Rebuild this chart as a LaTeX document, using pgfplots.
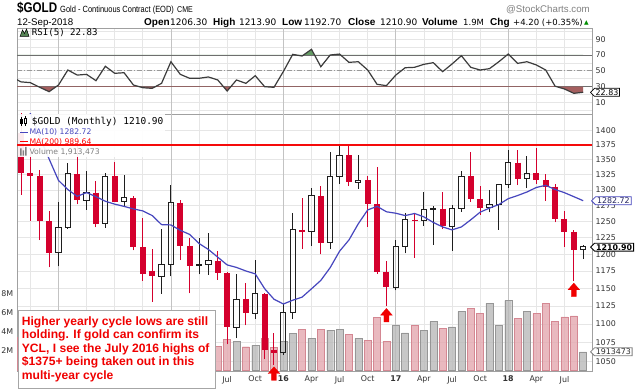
\documentclass[border=0pt]{standalone}
\usepackage{pgfplots}
\pgfplotsset{compat=1.18}
\usepackage{fontspec}
\setmainfont{DejaVu Sans}
\newfontfamily\lib{Liberation Sans}
\newfontfamily\libn[FakeStretch=0.83]{Liberation Sans}
\newfontfamily\djm{DejaVu Sans Mono}
\usetikzlibrary{shapes.symbols}
\newcommand\fs[1]{\fontsize{#1}{#1}\selectfont}
\definecolor{cred}{RGB}{212,0,45}
\definecolor{cblack}{RGB}{30,30,30}
\definecolor{gridc}{RGB}{230,230,230}
\definecolor{gridy}{RGB}{195,195,195}
\definecolor{bord}{RGB}{160,160,160}
\definecolor{labc}{RGB}{50,50,50}
\definecolor{mablue}{RGB}{70,70,190}
\definecolor{vpink}{RGB}{228,168,176}
\definecolor{vpinkb}{RGB}{212,135,146}
\definecolor{vgray}{RGB}{185,185,185}
\definecolor{vgrayb}{RGB}{150,150,150}
\definecolor{rsib}{RGB}{165,95,95}
\definecolor{rsig}{RGB}{100,155,100}
\definecolor{rsil}{RGB}{110,110,110}
\definecolor{anno}{RGB}{240,0,0}
\tikzset{lab/.style={font=\fs{7.9}, text=labc}}
\pgfplotsset{
  base/.style={scale only axis, width=575pt, xmin=-0.427, xmax=60.94, anchor=south west,
    clip mode=individual, /pgf/number format/assume math mode=true},
  hid/.style={base, hide axis},
  qgrid/.style={xtick={1,7,10,13,19,22,25,31,34,37,43,46,49,55,58},
    extra x ticks={4,16,28,40,52}, xmajorgrids,
    grid style={draw=gridc, line width=0.7pt},
    extra x tick style={grid style={draw=gridy, line width=0.7pt}}},
}
\pgfdeclareplotmark{uparr}{%
  \pgfpathmoveto{\pgfpoint{0pt}{-2pt}}%
  \pgfpathlineto{\pgfpoint{5.8pt}{-8.7pt}}%
  \pgfpathlineto{\pgfpoint{2.5pt}{-8.7pt}}%
  \pgfpathlineto{\pgfpoint{2.5pt}{-15.5pt}}%
  \pgfpathlineto{\pgfpoint{-2.5pt}{-15.5pt}}%
  \pgfpathlineto{\pgfpoint{-2.5pt}{-8.7pt}}%
  \pgfpathlineto{\pgfpoint{-5.8pt}{-8.7pt}}%
  \pgfpathclose\pgfusepathqfillstroke}
\begin{document}
\begin{tikzpicture}
\path[use as bounding box] (0,0) rectangle (640pt,389pt);
\fill[white] (0,0) rectangle (640pt,389pt);

% ---------------- RSI panel ----------------
\begin{axis}[base, qgrid, at={(17pt,275pt)}, height=86pt, ymin=-4.68, ymax=104.18,
  axis line style={draw=bord},
  xticklabels={}, extra x tick labels={},
  ytick={10,30,50,70,90}, minor ytick={0,20,40,60,80,100},
  ymajorgrids, yminorgrids, minor grid style={draw=gridc, line width=0.7pt},
  ytick pos=right, yticklabel pos=right, tick style={draw=none},
  yticklabel style={lab, anchor=west, inner sep=0pt, xshift=3.5pt}]
\addplot[draw=rsil, line width=0.9pt] coordinates {(-0.427,70) (60.94,70)};
\addplot[draw=rsil, line width=0.9pt] coordinates {(-0.427,30) (60.94,30)};
\addplot[draw=gray!80, line width=0.8pt, dash pattern=on 5pt off 2pt on 1pt off 2pt] coordinates {(-0.427,50) (60.94,50)};
\end{axis}

\begin{axis}[hid, at={(17pt,275pt)}, height=27.4pt, ymin=-4.68, ymax=30]
\addplot[fill=rsib, draw=none] coordinates {(-1,42.2)(0,36)(1,35.0)(2,29.1)(3,23.6)(4,32.0)(5,51.0)(6,44.6)(7,45.5)(8,37.5)(9,55.7)(10,46.8)(11,47.6)(12,32.0)(13,28.6)(14,27.8)(15,34.1)(16,61.5)(17,45.5)(18,40.5)(19,40.5)(20,42.2)(21,38.4)(22,24.4)(23,38.4)(24,34.1)(25,43.8)(26,29.9)(27,29.1)(28,49.1)(29,70.8)(30,68.7)(31,77.2)(32,55.2)(33,70.0)(34,71.2)(35,60.7)(36,61.5)(37,51.0)(38,32.9)(39,31.2)(40,44.6)(41,53.9)(42,54.4)(43,58.2)(44,60.3)(45,48.9)(46,58.6)(47,69.1)(48,54.4)(49,51.0)(50,52.7)(51,61.5)(52,71.2)(53,59.4)(54,61.5)(55,57.4)(56,51.0)(57,30.5)(58,27.0)(59,21.5)(60,22.83)(60,30)(-1,30)};
\end{axis}

\begin{axis}[hid, at={(17pt,334pt)}, height=27pt, ymin=70, ymax=104.18]
\addplot[fill=rsig, draw=none] coordinates {(-1,42.2)(0,36)(1,35.0)(2,29.1)(3,23.6)(4,32.0)(5,51.0)(6,44.6)(7,45.5)(8,37.5)(9,55.7)(10,46.8)(11,47.6)(12,32.0)(13,28.6)(14,27.8)(15,34.1)(16,61.5)(17,45.5)(18,40.5)(19,40.5)(20,42.2)(21,38.4)(22,24.4)(23,38.4)(24,34.1)(25,43.8)(26,29.9)(27,29.1)(28,49.1)(29,70.8)(30,68.7)(31,77.2)(32,55.2)(33,70.0)(34,71.2)(35,60.7)(36,61.5)(37,51.0)(38,32.9)(39,31.2)(40,44.6)(41,53.9)(42,54.4)(43,58.2)(44,60.3)(45,48.9)(46,58.6)(47,69.1)(48,54.4)(49,51.0)(50,52.7)(51,61.5)(52,71.2)(53,59.4)(54,61.5)(55,57.4)(56,51.0)(57,30.5)(58,27.0)(59,21.5)(60,22.83)(60,70)(-1,70)};
\end{axis}

\begin{axis}[hid, at={(17pt,275pt)}, height=86pt, ymin=-4.68, ymax=104.18]
\addplot[draw={rgb,255:red,60;green,60;blue,60}, line width=1.2pt] coordinates {(-1,42.2)(0,36)(1,35.0)(2,29.1)(3,23.6)(4,32.0)(5,51.0)(6,44.6)(7,45.5)(8,37.5)(9,55.7)(10,46.8)(11,47.6)(12,32.0)(13,28.6)(14,27.8)(15,34.1)(16,61.5)(17,45.5)(18,40.5)(19,40.5)(20,42.2)(21,38.4)(22,24.4)(23,38.4)(24,34.1)(25,43.8)(26,29.9)(27,29.1)(28,49.1)(29,70.8)(30,68.7)(31,77.2)(32,55.2)(33,70.0)(34,71.2)(35,60.7)(36,61.5)(37,51.0)(38,32.9)(39,31.2)(40,44.6)(41,53.9)(42,54.4)(43,58.2)(44,60.3)(45,48.9)(46,58.6)(47,69.1)(48,54.4)(49,51.0)(50,52.7)(51,61.5)(52,71.2)(53,59.4)(54,61.5)(55,57.4)(56,51.0)(57,30.5)(58,27.0)(59,21.5)(60,22.83)};
\end{axis}

% ---------------- Price panel grid ----------------
\begin{axis}[base, qgrid, at={(17pt,17.5pt)}, height=257.5pt, ymode=log, ymin=1036.75, ymax=1429.3,
  axis line style={draw=bord},
  xticklabels={,,,,,Jul,Oct,Apr,Jul,Oct,Apr,Jul,Oct,Apr,Jul},
  extra x tick labels={,,16,17,18},
  extra x tick style={xticklabel style={font=\fs{7.9}\bfseries}},
  xticklabel style={lab, anchor=north, inner sep=0pt, yshift=-4.5pt},
  ytick={1050,1075,1100,1125,1150,1175,1200,1225,1250,1275,1300,1325,1350,1375,1400},
  yticklabels={1050,1075,1100,1125,1150,1175,1200,1225,1250,1275,1300,1325,1350,1375,1400},
  ymajorgrids, ytick pos=right, yticklabel pos=right, tick style={draw=none},
  yticklabel style={lab, anchor=west, inner sep=0pt, xshift=3.5pt}]
\end{axis}

% ---------------- Volume ----------------
\begin{axis}[base, at={(17pt,17.5pt)}, height=257.5pt, ymin=-0.158, ymax=26.947,
  axis line style={draw=none}, xtick=\empty, ytick={2,4,6,8}, yticklabels={2M,4M,6M,8M},
  tick style={draw=none}, yticklabel style={lab, anchor=east, inner sep=0pt, xshift=-3.5pt},
  ybar, bar width=7pt]
\addplot[fill=vpink, draw=vpinkb, fill opacity=0.8, bar shift=0pt] coordinates {(0,3.5)(1,3.6)(2,3.3)(3,3.8)(6,3.7)(8,3.5)(10,3.4)(12,3.9)(13,4.0)(14,3.7)(17,3.9)(18,3.6)(21,2.5)(22,3.2)(24,2.45)(26,3.3)(27,2.4)(30,4.3)(32,4.3)(35,3.75)(37,3.15)(38,5.55)(39,3.05)(42,4.7)(45,4.4)(48,6.5)(49,5.95)(53,5.45)(55,5.95)(56,7.0)(57,5.15)(58,5.6)(59,5.7)};
\addplot[fill=vgray, draw=vgrayb, fill opacity=0.8, bar shift=0pt] coordinates {(4,3.4)(5,3.9)(7,3.2)(9,3.6)(11,3.0)(15,3.5)(16,4.2)(19,3.4)(20,3.2)(23,3.0)(25,2.6)(28,3.0)(29,3.85)(31,3.35)(33,4.2)(34,4.3)(36,3.3)(40,4.7)(41,3.9)(43,4.2)(44,5.1)(46,4.55)(47,6.15)(50,7.0)(51,4.7)(52,7.3)(54,6.2)(60,1.913)};
\end{axis}

% ---------------- Candles + MA ----------------
\begin{axis}[hid, at={(17pt,17.5pt)}, height=257.5pt, ymode=log, ymin=1036.75, ymax=1429.3, unbounded coords=jump]
% red wicks
\addplot[cred, line width=1pt] coordinates {(0,1292.0)(0,1434.4)(0,nan)(1,1251.0)(1,1362.4)(1,nan)(2,1221.2)(2,1332.0)(2,nan)(3,1180.5)(3,1267.0)(3,nan)(6,1277.0)(6,1392.0)(6,nan)(8,1240.6)(8,1315.0)(8,nan)(10,1281.0)(10,1345.3)(10,nan)(12,1205.5)(12,1290.7)(12,nan)(13,1160.8)(13,1255.0)(13,nan)(14,1131.0)(14,1208.0)(14,nan)(17,1191.0)(17,1284.0)(17,nan)(18,1142.6)(18,1224.2)(18,nan)(21,1162.0)(21,1205.3)(21,nan)(22,1072.3)(22,1174.0)(22,nan)(24,1098.0)(24,1157.0)(24,nan)(26,1052.4)(26,1143.0)(26,nan)(27,1045.4)(27,1088.0)(27,nan)(30,1208.4)(30,1287.8)(30,nan)(32,1199.6)(32,1306.0)(32,nan)(35,1306.0)(35,1375.1)(35,nan)(37,1241.6)(37,1322.6)(37,nan)(38,1171.2)(38,1338.0)(38,nan)(39,1124.3)(39,1190.2)(39,nan)(42,1194.5)(42,1263.9)(42,nan)(45,1238.1)(45,1297.1)(45,nan)(48,1281.1)(48,1362.4)(48,nan)(49,1260.3)(49,1306.1)(49,nan)(53,1307.9)(53,1366.2)(53,nan)(55,1310.1)(55,1369.4)(55,nan)(56,1282.2)(56,1326.6)(56,nan)(57,1248.6)(57,1310.2)(57,nan)(58,1211.3)(58,1265.6)(58,nan)(59,1160.4)(59,1237.2)};
% black wicks
\addplot[cblack, line width=1pt] coordinates {(4,1182)(4,1202.3)(4,nan)(4,1240.1)(4,1280)(4,nan)(5,1238)(5,1240.1)(5,nan)(5,1326.5)(5,1345)(5,nan)(7,1268)(7,1283.8)(7,nan)(7,1295.9)(7,1331.6)(7,nan)(9,1240)(9,1246.0)(9,nan)(9,1322.0)(9,1327)(9,nan)(11,1273)(11,1281.3)(11,nan)(11,1287.4)(11,1324)(11,nan)(15,1142.4)(15,1167.5)(15,nan)(15,1184.1)(15,1238.7)(15,nan)(16,1167.3)(16,1184.1)(16,nan)(16,1279.2)(16,1307.8)(16,nan)(19,1170)(19,1183.1)(19,nan)(19,1184.5)(19,1225)(19,nan)(20,1169.7)(20,1184.5)(20,nan)(20,1190.4)(20,1232.7)(20,nan)(23,1080.8)(23,1095.4)(23,nan)(23,1134.4)(23,1170.5)(23,nan)(25,1107)(25,1115.1)(25,nan)(25,1142.3)(25,1191.7)(25,nan)(28,1058)(28,1061.1)(28,nan)(28,1116.4)(28,1128)(28,nan)(29,1107)(29,1116.4)(29,nan)(29,1237.4)(29,1263.9)(29,nan)(31,1212)(31,1234.2)(31,nan)(31,1290.5)(31,1304)(31,nan)(33,1207.7)(33,1217.3)(33,nan)(33,1321.6)(33,1362.6)(33,nan)(34,1310.1)(34,1321.6)(34,nan)(34,1357.5)(34,1377.5)(34,nan)(36,1302)(36,1312.2)(36,nan)(36,1315.8)(36,1358.3)(36,nan)(40,1147)(40,1151.7)(40,nan)(40,1211.4)(40,1221.4)(40,nan)(41,1201)(41,1211.4)(41,nan)(41,1252.6)(41,1264)(41,nan)(43,1242.5)(43,1251.2)(43,nan)(43,1268.3)(43,1297.4)(43,nan)(44,1214.3)(44,1268.3)(44,nan)(44,1270.2)(44,1274.3)(44,nan)(46,1204.9)(46,1242.3)(46,nan)(46,1270.4)(46,1276.5)(46,nan)(47,1265.1)(47,1270.4)(47,nan)(47,1322.2)(47,1331.9)(47,nan)(50,1264.1)(50,1271.1)(50,nan)(50,1276.0)(50,1299.8)(50,nan)(51,1236.7)(51,1276.0)(51,nan)(51,1309.3)(51,1309.6)(51,nan)(52,1302.8)(52,1309.3)(52,nan)(52,1345.2)(52,1366.2)(52,nan)(54,1303.1)(54,1318.3)(54,nan)(54,1327.3)(54,1356.6)(54,nan)(60,1192.7)(60,1206.3)(60,nan)(60,1210.9)(60,1213.9)};
% red bodies
\addplot[cred, line width=6pt] coordinates {(0,1396.1)(0,1327.0)(0,nan)(1,1327.0)(1,1323.6)(1,nan)(2,1323.6)(2,1250.5)(2,nan)(3,1250.5)(3,1202.3)(3,nan)(6,1326.5)(6,1283.8)(6,nan)(8,1295.9)(8,1246.0)(8,nan)(10,1322.0)(10,1281.3)(10,nan)(12,1287.4)(12,1210.5)(12,nan)(13,1210.5)(13,1171.1)(13,nan)(14,1175.6)(14,1167.5)(14,nan)(17,1279.2)(17,1212.6)(17,nan)(18,1212.6)(18,1183.1)(18,nan)(21,1190.4)(21,1172.1)(21,nan)(22,1172.1)(22,1095.4)(22,nan)(24,1134.4)(24,1115.1)(24,nan)(26,1142.3)(26,1065.3)(26,nan)(27,1065.3)(27,1061.1)(27,nan)(30,1237.4)(30,1234.2)(30,nan)(32,1290.5)(32,1217.3)(32,nan)(35,1357.5)(35,1312.2)(35,nan)(37,1315.8)(37,1277.0)(37,nan)(38,1277.0)(38,1173.4)(38,nan)(39,1173.4)(39,1151.7)(39,nan)(42,1252.6)(42,1251.2)(42,nan)(45,1270.2)(45,1242.3)(45,nan)(48,1322.2)(48,1284.8)(48,nan)(49,1284.8)(49,1271.1)(49,nan)(53,1345.2)(53,1318.3)(53,nan)(55,1327.3)(55,1315.9)(55,nan)(56,1315.9)(56,1305.2)(56,nan)(57,1305.2)(57,1254.5)(57,nan)(58,1254.5)(58,1233.6)(58,nan)(59,1233.6)(59,1206.7)};
% hollow bodies
\addplot[cblack, line width=1pt] coordinates {
(4,1202.3)(4.28,1202.3)(4.28,1240.1)(3.72,1240.1)(3.72,1202.3)(4,1202.3)(4,nan)
(5,1240.1)(5.28,1240.1)(5.28,1326.5)(4.72,1326.5)(4.72,1240.1)(5,1240.1)(5,nan)
(7,1283.8)(7.28,1283.8)(7.28,1295.9)(6.72,1295.9)(6.72,1283.8)(7,1283.8)(7,nan)
(9,1246.0)(9.28,1246.0)(9.28,1322.0)(8.72,1322.0)(8.72,1246.0)(9,1246.0)(9,nan)
(11,1281.3)(11.28,1281.3)(11.28,1287.4)(10.72,1287.4)(10.72,1281.3)(11,1281.3)(11,nan)
(15,1167.5)(15.28,1167.5)(15.28,1184.1)(14.72,1184.1)(14.72,1167.5)(15,1167.5)(15,nan)
(16,1184.1)(16.28,1184.1)(16.28,1279.2)(15.72,1279.2)(15.72,1184.1)(16,1184.1)(16,nan)
(19,1183.1)(19.28,1183.1)(19.28,1184.5)(18.72,1184.5)(18.72,1183.1)(19,1183.1)(19,nan)
(20,1184.5)(20.28,1184.5)(20.28,1190.4)(19.72,1190.4)(19.72,1184.5)(20,1184.5)(20,nan)
(23,1095.4)(23.28,1095.4)(23.28,1134.4)(22.72,1134.4)(22.72,1095.4)(23,1095.4)(23,nan)
(25,1115.1)(25.28,1115.1)(25.28,1142.3)(24.72,1142.3)(24.72,1115.1)(25,1115.1)(25,nan)
(28,1061.1)(28.28,1061.1)(28.28,1116.4)(27.72,1116.4)(27.72,1061.1)(28,1061.1)(28,nan)
(29,1116.4)(29.28,1116.4)(29.28,1237.4)(28.72,1237.4)(28.72,1116.4)(29,1116.4)(29,nan)
(31,1234.2)(31.28,1234.2)(31.28,1290.5)(30.72,1290.5)(30.72,1234.2)(31,1234.2)(31,nan)
(33,1217.3)(33.28,1217.3)(33.28,1321.6)(32.72,1321.6)(32.72,1217.3)(33,1217.3)(33,nan)
(34,1321.6)(34.28,1321.6)(34.28,1357.5)(33.72,1357.5)(33.72,1321.6)(34,1321.6)(34,nan)
(36,1312.2)(36.28,1312.2)(36.28,1315.8)(35.72,1315.8)(35.72,1312.2)(36,1312.2)(36,nan)
(40,1151.7)(40.28,1151.7)(40.28,1211.4)(39.72,1211.4)(39.72,1151.7)(40,1151.7)(40,nan)
(41,1211.4)(41.28,1211.4)(41.28,1252.6)(40.72,1252.6)(40.72,1211.4)(41,1211.4)(41,nan)
(43,1251.2)(43.28,1251.2)(43.28,1268.3)(42.72,1268.3)(42.72,1251.2)(43,1251.2)(43,nan)
(44,1268.3)(44.28,1268.3)(44.28,1270.2)(43.72,1270.2)(43.72,1268.3)(44,1268.3)(44,nan)
(46,1242.3)(46.28,1242.3)(46.28,1270.4)(45.72,1270.4)(45.72,1242.3)(46,1242.3)(46,nan)
(47,1270.4)(47.28,1270.4)(47.28,1322.2)(46.72,1322.2)(46.72,1270.4)(47,1270.4)(47,nan)
(50,1271.1)(50.28,1271.1)(50.28,1276.0)(49.72,1276.0)(49.72,1271.1)(50,1271.1)(50,nan)
(51,1276.0)(51.28,1276.0)(51.28,1309.3)(50.72,1309.3)(50.72,1276.0)(51,1276.0)(51,nan)
(52,1309.3)(52.28,1309.3)(52.28,1345.2)(51.72,1345.2)(51.72,1309.3)(52,1309.3)(52,nan)
(54,1318.3)(54.28,1318.3)(54.28,1327.3)(53.72,1327.3)(53.72,1318.3)(54,1318.3)(54,nan)
(60,1206.3)(60.28,1206.3)(60.28,1210.9)(59.72,1210.9)(59.72,1206.3)(60,1206.3)};
% MA(10)
\addplot[mablue, line width=1.2pt] coordinates {(0,1465.3)(1,1430.1)(2,1388.8)(3,1351.2)(4,1315.6)(5,1300.6)(6,1289.7)(7,1295.8)(8,1289.2)(9,1281.8)(10,1277.2)(11,1273.6)(12,1269.6)(13,1266.5)(14,1259.2)(15,1245.0)(16,1244.5)(17,1236.2)(18,1229.9)(19,1216.1)(20,1207.0)(21,1195.5)(22,1184.0)(23,1180.3)(24,1175.1)(25,1170.9)(26,1149.5)(27,1134.4)(28,1127.7)(29,1133.0)(30,1137.4)(31,1149.2)(32,1161.4)(33,1180.1)(34,1204.4)(35,1221.4)(36,1246.4)(37,1268.0)(38,1273.7)(39,1265.1)(40,1262.8)(41,1259.1)(42,1262.4)(43,1257.1)(44,1248.4)(45,1241.4)(46,1236.9)(47,1241.4)(48,1252.5)(49,1264.5)(50,1270.9)(51,1276.6)(52,1286.0)(53,1291.0)(54,1296.7)(55,1304.1)(56,1307.5)(57,1300.8)(58,1295.6)(59,1289.2)(60,1282.7)};
\end{axis}

% arrows
\begin{axis}[hid, at={(17pt,17.5pt)}, height=257.5pt, ymode=log, ymin=1036.75, ymax=1429.3, clip=false]
\addplot[only marks, mark=uparr, mark options={fill=anno, draw=anno, line width=0.3pt}] coordinates {(27,1045.4)(39,1124.3)(59,1160.4)};
\end{axis}

% legends
\begin{scope}[shift={(0pt,389pt)}, x=1pt, y=-1pt]
\fill[white, opacity=0.92] (17.5,114.5) rectangle (165,157);
\filldraw[fill=rsig!85!black, draw=black, line width=0.5pt] (20,36.5) -- (22.5,30) -- (24.5,33.5) -- (26.5,29) -- (29,36.5) -- cycle;
\node[anchor=west, inner sep=0pt] at (31.7,32.4) {\djm\fs{9.1}RSI(5) 22.83};
\draw[black, line width=0.6pt] (21.5,117) -- (21.5,126.5);
\fill[black] (20.3,119) rectangle (22.7,124.5);
\draw[black, line width=0.6pt] (25.5,116.5) -- (25.5,126);
\draw[black, line width=0.5pt, fill=white] (24.3,118.5) rectangle (26.7,123.5);
\node[anchor=west, inner sep=0pt] at (31.7,121.7) {\djm\fs{9.5}\$GOLD (Monthly) 1210.90};
\draw[mablue, line width=1.2pt] (20,132.3) -- (27.5,132.3);
\node[anchor=west, inner sep=0pt] at (29.3,132.3) {\fs{7.7}\color{mablue}MA(10) 1282.72};
\draw[red, line width=1.2pt] (20,141.7) -- (27.5,141.7);
\node[anchor=west, inner sep=0pt] at (29.3,141.7) {\fs{7.7}\color{red}MA(200) 989.64};
\fill[gray] (20,148.5) rectangle (21.5,155.5) (22.5,150.5) rectangle (24,155.5) (25,147) rectangle (26.5,155.5);
\node[anchor=west, inner sep=0pt] at (29.3,151.7) {\fs{7.7}\color{gray}Volume 1,913,473};
\end{scope}

% red 1375 level line
\begin{axis}[hid, at={(17pt,17.5pt)}, height=257.5pt, ymode=log, ymin=1036.75, ymax=1429.3]
\addplot[color={rgb,255:red,245;green,10;blue,10}, line width=1.6pt] coordinates {(-0.427,1375)(60.94,1375)};
\end{axis}

\begin{scope}[shift={(0pt,389pt)}, x=1pt, y=-1pt]
% value tags
\node[signal, signal to=west, draw=mablue, fill=white, line width=0.8pt, inner xsep=1.5pt, inner ysep=1pt, anchor=west, font=\fs{7.9}, text=mablue!50!black] at (591,200.8) {1282.72};
\node[signal, signal to=west, draw=black, fill=white, line width=0.9pt, inner xsep=1.5pt, inner ysep=1pt, anchor=west, font=\fs{7.9}\bfseries] at (590,247.2) {1210.90};
\node[signal, signal to=west, draw=gray, fill=white, line width=0.8pt, inner xsep=1.2pt, inner ysep=1pt, anchor=west, font=\fs{7.9}, text=labc] at (590,351.8) {1913473};
\node[signal, signal to=west, draw=black, fill=white, line width=0.7pt, inner xsep=1.2pt, inner ysep=1pt, anchor=west, font=\fs{7.9}] at (590,92.3) {22.83};
% annotation box
\draw[draw=gray!70, fill=white, line width=0.8pt] (18.5,310) rectangle (215,388.5);
\begin{scope}[every node/.style={anchor=base west, inner sep=0pt, text=anno, font=\lib\bfseries\fs{12.1}}]
\node at (21.7,325) {Higher yearly cycle lows are still};
\node at (21.7,338.6) {holding. If gold can confirm its};
\node at (21.7,352.2) {YCL, I see the July 2016 highs of};
\node at (21.7,365.8) {\$1375+ being taken out in this};
\node at (21.7,379.4) {multi-year cycle};
\end{scope}
% header
\begin{scope}[every node/.style={anchor=base west, inner sep=0pt}]
\node at (17,12.5) {\libn\bfseries\fs{14}\$GOLD};
\node at (60,12.5) {\libn\fs{9}Gold - Continuous Contract (EOD)};
\node at (177,12.5) {\libn\fs{8.5}CME};
\node[anchor=base east] at (590,12.5) {\lib\fs{9.7}\color{gray}@StockCharts.com};
\node at (17,25.5) {\lib\fs{9.7}12-Sep-2018};
\node at (144,25.5) {\lib\bfseries\fs{10}Open};
\node at (170,25.5) {\fs{9}1206.30};
\node at (213,25.5) {\lib\bfseries\fs{10}High};
\node at (239,25.5) {\fs{9}1213.90};
\node at (282,25.5) {\lib\bfseries\fs{10}Low};
\node at (304,25.5) {\fs{9}1192.70};
\node at (348,25.5) {\lib\bfseries\fs{10}Close};
\node at (380,25.5) {\fs{9}1210.90};
\node at (422,25.5) {\lib\bfseries\fs{10}Volume};
\node at (463,25.5) {\fs{8.5}1.9M};
\node at (490,25.5) {\lib\bfseries\fs{10}Chg};
\node at (513,25.5) {\fs{8.5}+4.20 (+0.35\%)};
\node at (584,24.5) {\fs{6}\color{green!55!black}▲};
\end{scope}
\end{scope}
\end{tikzpicture}
\end{document}
